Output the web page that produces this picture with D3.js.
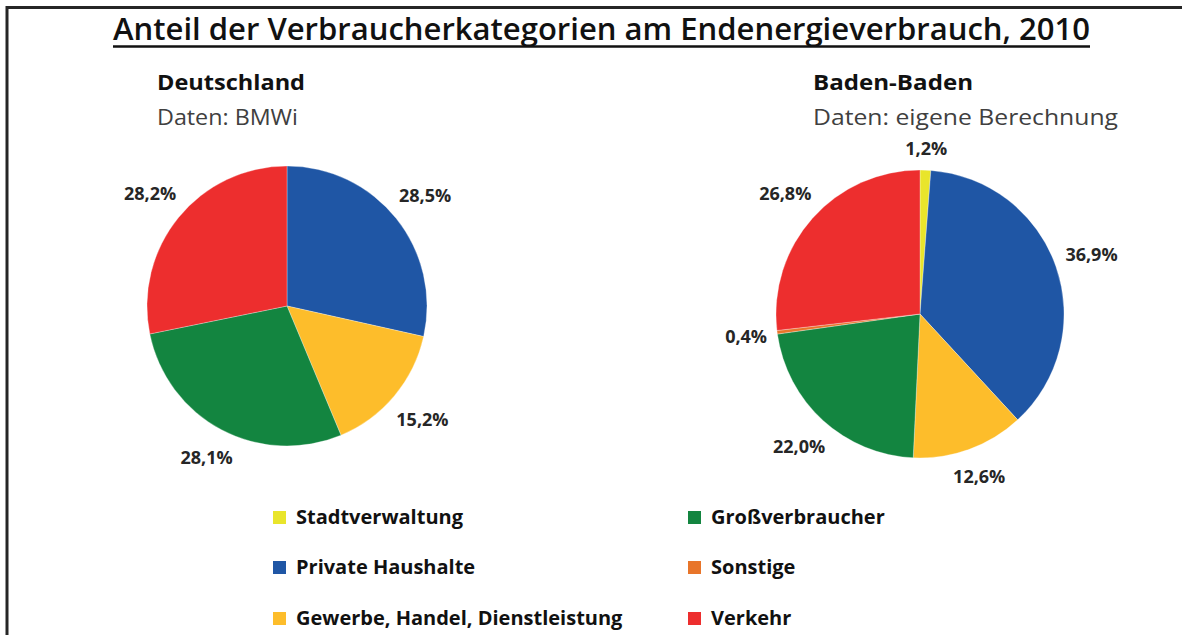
<!DOCTYPE html>
<html>
<head>
    <meta charset="utf-8">
    <title>Endenergieverbrauch</title>
    <script src="https://d3js.org/d3.v7.min.js"></script>
    <style>
        body { margin: 0; background: #fff; }
        svg { display: block; }
        text { font-family: "Open Sans", "Noto Sans", sans-serif; }
    </style>
</head>
<body>
    <svg id="chart"></svg>
    <script>
        const width = 1182;
        const height = 635;

        // Data
        const categories = ["Stadtverwaltung", "Private Haushalte", "Gewerbe, Handel, Dienstleistung", "Gro\u00DFverbraucher", "Sonstige", "Verkehr"];
        const deutschland = [0, 28.5, 15.2, 28.1, 0, 28.2];
        const badenBaden = [1.2, 36.9, 12.6, 22.0, 0.4, 26.8];
        const colors = ["#e9e52b", "#1f56a5", "#fdbd2b", "#138540", "#e8752a", "#ed2e2e"];

        const svg = d3.select("#chart")
            .attr("width", width)
            .attr("height", height);

        // frame lines (top + left only)
        svg.append("line").attr("x1", 6).attr("x2", width).attr("y1", 7.5).attr("y2", 7.5)
            .style("stroke", "#262626").style("stroke-width", 3);
        svg.append("line").attr("x1", 7).attr("x2", 7).attr("y1", 6).attr("y2", height)
            .style("stroke", "#262626").style("stroke-width", 3);

        // Title
        svg.append("text")
            .attr("x", 113).attr("y", 40)
            .attr("textLength", 977)
            .attr("lengthAdjust", "spacingAndGlyphs")
            .style("font-size", "31px")
            .style("font-weight", "600")
            .style("fill", "#111")
            .text("Anteil der Verbraucherkategorien am Endenergieverbrauch, 2010");
        svg.append("line").attr("x1", 113).attr("x2", 1090).attr("y1", 46.5).attr("y2", 46.5)
            .style("stroke", "#111").style("stroke-width", 2.5);

        const color = d3.scaleOrdinal().domain(categories).range(colors);

        const pies = [
            { name: "Deutschland", source: "Daten: BMWi", values: deutschland, cx: 287, cy: 306, r: 140, tx: 157, nameLen: 148, srcLen: 141 },
            { name: "Baden-Baden", source: "Daten: eigene Berechnung", values: badenBaden, cx: 920, cy: 314, r: 144, tx: 813, nameLen: 160, srcLen: 305 }
        ];

        const pie = d3.pie().sort(null).value(d => d.value);

        pies.forEach(p => {
            svg.append("text")
                .attr("x", p.tx).attr("y", 90)
                .attr("textLength", p.nameLen).attr("lengthAdjust", "spacingAndGlyphs")
                .style("font-size", "22px").style("font-weight", "bold").style("fill", "#111")
                .text(p.name);
            svg.append("text")
                .attr("x", p.tx).attr("y", 125)
                .attr("textLength", p.srcLen).attr("lengthAdjust", "spacingAndGlyphs")
                .style("font-size", "22px").style("fill", "#404040")
                .text(p.source);

            const data = categories.map((c, i) => ({ cat: c, value: p.values[i] }));
            const arcs = pie(data);
            const arc = d3.arc().innerRadius(0).outerRadius(p.r);

            const g = svg.append("g").attr("transform", `translate(${p.cx},${p.cy})`);

            g.selectAll("path")
                .data(arcs.filter(d => d.data.value > 0))
                .enter().append("path")
                .attr("d", arc)
                .style("fill", d => color(d.data.cat))
                .style("stroke", "#fff")
                .style("stroke-width", 0.3);

            // outside-end labels: box edge sits a little outside the rim
            const labels = g.selectAll(".lbl")
                .data(arcs.filter(d => d.data.value > 0))
                .enter().append("text")
                .attr("class", "lbl")
                .attr("text-anchor", "middle")
                .attr("dy", "0.35em")
                .style("font-size", "18px")
                .style("font-weight", "bold")
                .style("fill", "#262626")
                .text(d => d.data.value.toFixed(1).replace(".", ",") + "%");

            labels.each(function(d) {
                const a = (d.startAngle + d.endAngle) / 2;
                const bb = this.getBBox();
                const s = Math.sin(a), c = -Math.cos(a);
                const rr = p.r + 9 + Math.abs(s) * bb.width / 2 + Math.abs(c) * bb.height / 2;
                d3.select(this).attr("x", s * rr).attr("y", c * rr);
            });
        });

        // Legend
        const legendCols = [273, 688];
        const legendRows = [517, 567, 618];
        const legend = svg.selectAll(".legend")
            .data(categories)
            .enter().append("g")
            .attr("class", "legend")
            .attr("transform", (d, i) => `translate(${legendCols[Math.floor(i / 3)]},${legendRows[i % 3]})`);

        legend.append("rect")
            .attr("x", 0).attr("y", -6)
            .attr("width", 13).attr("height", 13)
            .style("fill", d => color(d));

        legend.append("text")
            .attr("x", 23).attr("dy", "0.35em")
            .style("font-size", "20px").style("font-weight", "bold").style("fill", "#111")
            .text(d => d);
    </script>
</body>
</html>
